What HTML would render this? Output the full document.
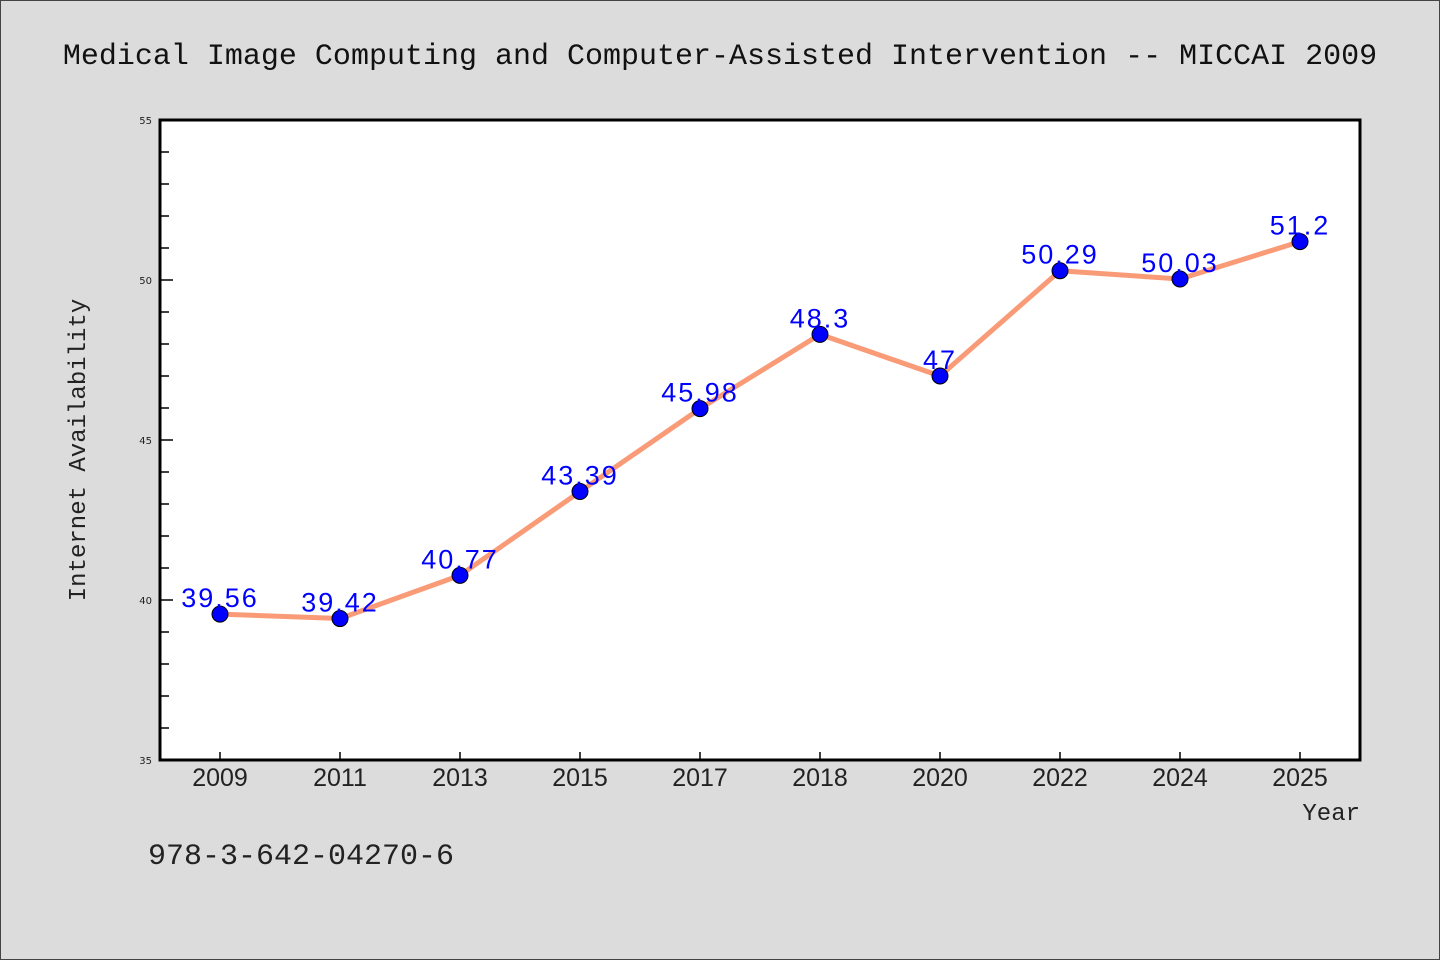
<!DOCTYPE html>
<html><head><meta charset="utf-8"><style>
body{margin:0;background:#dcdcdc;}
svg{display:block;}
</style></head><body>
<svg width="1440" height="960" xmlns="http://www.w3.org/2000/svg">
<rect x="0.5" y="0.5" width="1439" height="959" fill="#dcdcdc" stroke="#444"/>
<text x="720" y="64" text-anchor="middle" font-family="Liberation Mono, monospace" font-size="30" fill="#111">Medical Image Computing and Computer-Assisted Intervention -- MICCAI 2009</text>
<rect x="160" y="120" width="1200" height="640" fill="#fff"/>
<g id="ticks"></g>
<g id="marks"></g>
<rect x="160" y="120" width="1200" height="640" fill="none" stroke="#000" stroke-width="3"/>
<text transform="translate(85,450) rotate(-90)" text-anchor="middle" font-family="Liberation Mono, monospace" font-size="24" fill="#222">Internet Availability</text>
<text x="1360" y="820" text-anchor="end" font-family="Liberation Mono, monospace" font-size="24" fill="#222">Year</text>
<text x="148" y="864" font-family="Liberation Mono, monospace" font-size="30" fill="#222">978-3-642-04270-6</text>
</svg>
<script>
const categories=["2009","2011","2013","2015","2017","2018","2020","2022","2024","2025"];
const values=[39.56,39.42,40.77,43.39,45.98,48.3,47,50.29,50.03,51.2];
const valueLabels=["39.56","39.42","40.77","43.39","45.98","48.3","47","50.29","50.03","51.2"];
const yTicks=[35,40,45,50,55];
const NS="http://www.w3.org/2000/svg";
const x0=160,x1=1360,y0=760,y1=120,yMin=35,yMax=55;
function xs(i){return x0+(x1-x0)/categories.length*(i+0.5);}
function ys(v){return y0-(v-yMin)/(yMax-yMin)*(y0-y1);}
function mk(t,a,p){const e=document.createElementNS(NS,t);for(const k in a)e.setAttribute(k,a[k]);p.appendChild(e);return e;}
const tg=document.getElementById('ticks'),mg=document.getElementById('marks');
for(let v=yMin;v<=yMax;v++){
 const major=yTicks.includes(v);
 const l=mk('line',{x1:160,x2:major?173:169,y1:ys(v),y2:ys(v),stroke:'#000','stroke-width':1.5},tg);
 
 
}
yTicks.forEach(v=>{
 const t=mk('text',{x:152,y:ys(v)+4,'text-anchor':'end','font-family':'DejaVu Sans, sans-serif','font-size':10,fill:'#222'},tg);
 t.textContent=v;
 
 
});
categories.forEach((c,i)=>{
 const l=mk('line',{x1:xs(i),x2:xs(i),y1:760,y2:752,stroke:'#000','stroke-width':1.5},tg);
 
 
 const t=mk('text',{x:xs(i),y:786,'text-anchor':'middle','font-family':'Liberation Sans, sans-serif','font-size':25,fill:'#222'},tg);
 t.textContent=c;
 
 
});
const pts=values.map((v,i)=>xs(i)+','+ys(v)).join(' ');
const line=mk('polyline',{points:pts,fill:'none',stroke:'#fa9b78','stroke-width':5,'stroke-linejoin':'round'},mg);


values.forEach((v,i)=>{
 const c=mk('circle',{cx:xs(i),cy:ys(v),r:8,fill:'#0000ff',stroke:'#000','stroke-width':1},mg);
 
 
 const t=mk('text',{x:xs(i),y:ys(v)-7,'text-anchor':'middle','font-family':'Liberation Sans, sans-serif','font-size':27,'letter-spacing':2,fill:'#0000ff'},mg);
 t.textContent=valueLabels[i];
 
 
});
</script>
</body></html>
